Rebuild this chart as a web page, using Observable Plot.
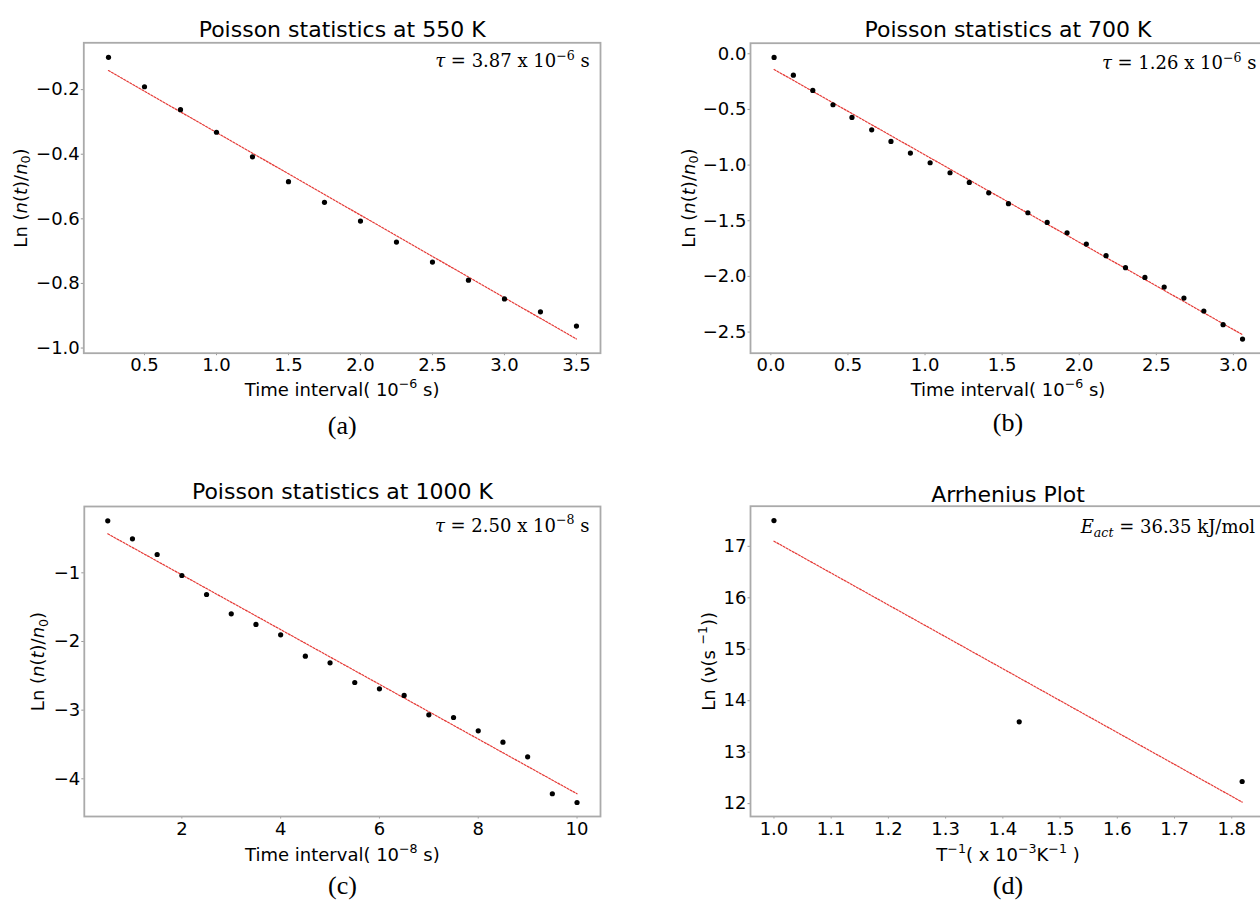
<!DOCTYPE html>
<html><head><meta charset="utf-8">
<script src="https://cdn.jsdelivr.net/npm/d3@7"></script>
<script src="https://cdn.jsdelivr.net/npm/@observablehq/plot@0.6"></script>
<style>
html,body{margin:0;padding:0;background:#fff;width:1260px;height:902px;overflow:hidden;}
#fig{position:relative;width:1260px;height:902px;overflow:hidden;background:#fff;}
#fig > svg{position:absolute;}
</style></head><body><div id="fig"></div>
<script>
// ---------- data ----------
// (a) 550 K
const timeA = [0.25, 0.5, 0.75, 1.0, 1.25, 1.5, 1.75, 2.0, 2.25, 2.5, 2.75, 3.0, 3.25, 3.5];
const lnA   = [-0.100, -0.191, -0.262, -0.332, -0.408, -0.485, -0.549, -0.607, -0.672, -0.734, -0.790, -0.848, -0.888, -0.932];
const fitTimeA = [0.25, 3.5];
const fitLnA   = [-0.141, -0.972];

// (b) 700 K
const timeB = [0.021, 0.146, 0.272, 0.403, 0.526, 0.654, 0.779, 0.905, 1.033, 1.162, 1.287, 1.413, 1.541, 1.667, 1.792, 1.921, 2.046, 2.174, 2.300, 2.426, 2.551, 2.679, 2.808, 2.933, 3.059];
const lnB   = [-0.033, -0.192, -0.329, -0.458, -0.572, -0.683, -0.787, -0.892, -0.979, -1.069, -1.156, -1.249, -1.347, -1.428, -1.515, -1.608, -1.710, -1.814, -1.922, -2.009, -2.096, -2.195, -2.311, -2.434, -2.563];
const fitTimeB = [0.021, 3.059];
const fitLnB   = [-0.141, -2.524];

// (c) 1000 K
const timeC = [0.5, 1.0, 1.5, 2.0, 2.5, 3.0, 3.5, 4.0, 4.5, 5.0, 5.5, 6.0, 6.5, 7.0, 7.5, 8.0, 8.5, 9.0, 9.5, 10.0];
const lnC   = [-0.243, -0.505, -0.733, -1.039, -1.316, -1.597, -1.752, -1.903, -2.214, -2.311, -2.597, -2.689, -2.786, -3.068, -3.107, -3.301, -3.466, -3.680, -4.218, -4.345];
const fitTimeC = [0.5, 10.0];
const fitLnC   = [-0.432, -4.218];

// (d) Arrhenius
const invT  = [1.0, 1.4286, 1.8182];
const lnNu  = [17.50, 13.59, 12.43];
const fitInvT = [1.0, 1.8182];
const fitLnNu = [17.10, 12.03];

// ---------- tick values & texts ----------
const ticksXA = [0.5, 1.0, 1.5, 2.0, 2.5, 3.0, 3.5];
const ticksYA = [-1.0, -0.8, -0.6, -0.4, -0.2];
const ticksXB = [0.0, 0.5, 1.0, 1.5, 2.0, 2.5, 3.0];
const ticksYB = [-2.5, -2.0, -1.5, -1.0, -0.5, 0.0];
const ticksXC = [2, 4, 6, 8, 10];
const ticksYC = [-4, -3, -2, -1];
const ticksXD = [1.0, 1.1, 1.2, 1.3, 1.4, 1.5, 1.6, 1.7, 1.8];
const ticksYD = [12, 13, 14, 15, 16, 17];

const titles   = ["Poisson statistics at 550 K", "Poisson statistics at 700 K", "Poisson statistics at 1000 K", "Arrhenius Plot"];
const xLabels  = ["Time interval( 10^{−6} s)", "Time interval( 10^{−6} s)", "Time interval( 10^{−8} s)", "T^{−1}( x 10^{−3}K^{−1} )"];
const yLabels  = ["Ln (*n*(*t*)/*n*_{0})", "Ln (*n*(*t*)/*n*_{0})", "Ln (*n*(*t*)/*n*_{0})", "Ln (ν(s ^{−1}))"];
const notes    = ["*τ* = 3.87 x 10^{−6} s", "*τ* = 1.26 x 10^{−6} s", "*τ* = 2.50 x 10^{−8} s", "*E*_{*act*} = 36.35 kJ/mol"];
const captions = ["(a)", "(b)", "(c)", "(d)"];

const zip = (xs, ys) => xs.map((x, i) => ({x, y: ys[i]}));
const f1 = d3.format(".1f"), fd = d3.format("d");

const panels = [
  {left: 0, top: 0, width: 630, height: 450, m: [42.3, 30, 97.3, 83.3],
   xd: [0.0785, 3.667], yd: [-1.016, -0.055], xt: ticksXA, yt: ticksYA, xf: f1, yf: f1,
   pts: zip(timeA, lnA), fit: zip(fitTimeA, fitLnA),
   titleDy: -6, xlDy: 42.3, ylDx: -57.3, noteDx: -10.7, noteDy: 24.4, capDy: 80.3},
  {left: 630, top: 0, width: 640, height: 450, m: [42.7, 5, 97.3, 120],
   xd: [-0.132, 3.208], yd: [-2.69, 0.095], xt: ticksXB, yt: ticksYB, xf: f1, yf: f1,
   pts: zip(timeB, lnB), fit: zip(fitTimeB, fitLnB),
   titleDy: -6, xlDy: 42.3, ylDx: -56, noteDx: -9, noteDy: 25.6, capDy: 77.5},
  {left: 0, top: 450, width: 630, height: 452, m: [56, 30, 86, 83.8],
   xd: [0.025, 10.475], yd: [-4.549, -0.034], xt: ticksXC, yt: ticksYC, xf: fd, yf: fd,
   pts: zip(timeC, lnC), fit: zip(fitTimeC, fitLnC),
   titleDy: -7.7, xlDy: 44, ylDx: -40, noteDx: -11, noteDy: 25, capDy: 77},
  {left: 630, top: 450, width: 640, height: 452, m: [55.7, 5, 86, 120],
   xd: [0.959, 1.859], yd: [11.75, 17.78], xt: ticksXD, yt: ticksYD, xf: f1, yf: fd,
   pts: zip(invT, lnNu), fit: zip(fitInvT, fitLnNu),
   titleDy: -4, xlDy: 44, ylDx: -36, noteDx: -10.4, noteDy: 27, capDy: 77}
];

const fig = document.getElementById("fig");

panels.forEach((p, i) => {
  const svg = Plot.plot({
    width: p.width, height: p.height,
    marginTop: p.m[0], marginRight: p.m[1], marginBottom: p.m[2], marginLeft: p.m[3],
    style: {fontFamily: "DejaVu Sans", fontSize: "18px", color: "black", background: "white", maxWidth: "none", overflow: "visible"},
    x: {domain: p.xd, label: null},
    y: {domain: p.yd, label: null},
    marks: [
      Plot.axisX({ticks: p.xt, tickFormat: p.xf, tickSize: 2.5, tickPadding: 3, stroke: "#999", fill: "black", fontSize: 18, label: null}),
      Plot.axisY({ticks: p.yt, tickFormat: p.yf, tickSize: 2.5, tickPadding: 1.5, stroke: "#999", fill: "black", fontSize: 18, label: null}),
      Plot.line(p.fit, {x: "x", y: "y", stroke: "#e53935", strokeWidth: 1.2, strokeDasharray: "2,1.5"}),
      Plot.dot(p.pts, {x: "x", y: "y", r: 2.6, fill: "black", stroke: null}),
      Plot.frame({stroke: "#aaaaaa", strokeWidth: 1.8}),
      Plot.text([titles[i]], {text: d => d, frameAnchor: "top", textAnchor: "middle", lineAnchor: "bottom", dy: p.titleDy, fontSize: 22, fill: "black"}),
      Plot.text([xLabels[i]], {text: d => d, frameAnchor: "bottom", textAnchor: "middle", lineAnchor: "bottom", dy: p.xlDy, fontSize: 18, fill: "black"}),
      Plot.text([yLabels[i]], {text: d => d, frameAnchor: "left", textAnchor: "middle", lineAnchor: "bottom", rotate: -90, dx: p.ylDx, fontSize: 18, fill: "black"}),
      Plot.text([notes[i]], {text: d => d, frameAnchor: "top-right", textAnchor: "end", lineAnchor: "bottom", dx: p.noteDx, dy: p.noteDy, fontFamily: "DejaVu Serif", fontSize: 18, fill: "black"}),
      Plot.text([captions[i]], {text: d => d, frameAnchor: "bottom", textAnchor: "middle", lineAnchor: "bottom", dy: p.capDy, fontFamily: "Liberation Serif", fontSize: 26, fill: "black"})
    ]
  });
  svg.style.left = p.left + "px";
  svg.style.top = p.top + "px";
  fig.appendChild(svg);
  richify(svg);
});

// convert *italic*, ^{sup}, _{sub} markup into tspans (text stays real text)
function richify(root) {
  root.querySelectorAll("text").forEach(t => {
    if (t.children.length) return;
    const s = t.textContent;
    if (!/[\^_*]/.test(s)) return;
    const fs = parseFloat(getComputedStyle(t).fontSize) || 18;
    const segs = []; let buf = "", it = false, lv = 0;
    const flush = () => { if (buf) segs.push({s: buf, it, lv}); buf = ""; };
    for (let k = 0; k < s.length; k++) {
      const c = s[k];
      if (c === "*") { flush(); it = !it; }
      else if ((c === "^" || c === "_") && s[k + 1] === "{") { flush(); lv = c === "^" ? 1 : -1; k++; }
      else if (c === "}" && lv !== 0) { flush(); lv = 0; }
      else buf += c;
    }
    flush();
    t.textContent = "";
    let cur = 0;
    for (const g of segs) {
      const ts = document.createElementNS("http://www.w3.org/2000/svg", "tspan");
      const target = g.lv > 0 ? -0.4 * fs : g.lv < 0 ? 0.22 * fs : 0;
      if (target !== cur) ts.setAttribute("dy", target - cur);
      cur = target;
      if (g.lv) ts.setAttribute("font-size", 0.7 * fs);
      if (g.it) ts.setAttribute("font-style", "italic");
      ts.textContent = g.s;
      t.appendChild(ts);
    }
  });
}
</script>
</body></html>
